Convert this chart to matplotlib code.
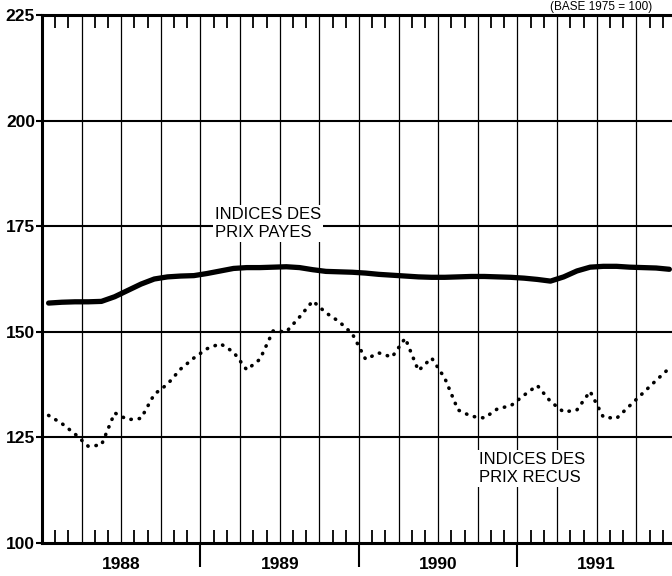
"""Indices des prix payes / recus, 1988-1991 (base 1975 = 100)."""

import numpy as np
import matplotlib
matplotlib.use("Agg")
import matplotlib.pyplot as plt

plt.rcParams["font.family"] = ["Liberation Sans", "DejaVu Sans"]

# mois 0 = janvier 1988, valeurs placees en milieu de mois
MONTHS = np.arange(48) + 0.5
YEARS = ["1988", "1989", "1990", "1991"]

PRIX_PAYES = [
    156.8, 157.0, 157.1, 157.1, 157.2, 158.3, 159.8, 161.3, 162.5, 163.0, 163.2, 163.3,
    163.8, 164.4, 165.0, 165.2, 165.2, 165.3, 165.4, 165.2, 164.7, 164.3, 164.2, 164.1,
    163.9, 163.6, 163.4, 163.2, 163.0, 162.9, 162.9, 163.0, 163.1, 163.1, 163.0, 162.9,
    162.7, 162.4, 162.0, 163.0, 164.4, 165.3, 165.5, 165.5, 165.3, 165.2, 165.1, 164.8,
]
PRIX_RECUS = [
    130.2, 128.3, 125.8, 122.9, 123.2, 130.8, 129.2, 129.5, 135.2, 137.6, 141.2, 143.8,
    146.0, 147.2, 145.2, 141.0, 143.5, 150.2, 150.0, 153.5, 157.3, 154.5, 152.4, 149.5,
    143.5, 145.0, 144.0, 148.5, 140.8, 143.8, 139.0, 131.5, 130.0, 129.6, 131.8, 132.5,
    135.0, 137.3, 133.5, 131.0, 131.5, 135.9, 129.8, 129.5, 132.5, 135.5, 138.5, 141.4,
]

fig = plt.figure(figsize=(6.72, 5.76), dpi=100)
ax = fig.add_axes([42 / 672, 33 / 576, 630 / 672, 528 / 576])

ax.set_xlim(0, 47.7)
ax.set_ylim(100, 225)

# grille : trimestres et lignes de 25 en 25
for q in range(3, 48, 3):
    ax.axvline(q, color="black", lw=0.9, zorder=1)
for v in (125, 150, 175, 200):
    ax.axhline(v, color="black", lw=1.5, zorder=1)

ax.plot(MONTHS, PRIX_PAYES, color="black", lw=3.8, solid_capstyle="round", zorder=3)
ax.plot(MONTHS, PRIX_RECUS, color="black", lw=2.6, ls=(0, (0.1, 2.2)),
        dash_capstyle="round", zorder=3)

box = dict(boxstyle="square,pad=0.12", fc="white", ec="none")
ax.text(13.1, 175.6, "INDICES DES\nPRIX PAYES", ha="left", va="center",
        fontsize=12, linespacing=1.3, bbox=box, zorder=4)
ax.text(33.1, 117.6, "INDICES DES\nPRIX RECUS", ha="left", va="center",
        fontsize=12, linespacing=1.3, bbox=box, zorder=4)

# axes
for side in ("left", "top", "bottom"):
    ax.spines[side].set_linewidth(2.2)
ax.spines["right"].set_visible(False)

ax.set_yticks([100, 125, 150, 175, 200, 225])
ax.tick_params(axis="y", direction="out", length=4, width=1.5, pad=1,
               labelsize=12.5)
for lab in ax.get_yticklabels():
    lab.set_fontweight("bold")

ax.set_xticks([6, 18, 30, 42])
ax.set_xticklabels(YEARS, fontsize=12.5, fontweight="bold")
ax.set_xticks([m for m in range(1, 48) if m % 3], minor=True)
ax.tick_params(axis="x", which="major", length=0, pad=10)
ax.tick_params(axis="x", which="minor", direction="in", length=9.5, width=1.3,
               top=True, bottom=True)

sep = ax.secondary_xaxis("bottom")
sep.set_xticks([12, 24, 36])
sep.set_xticklabels([])
sep.tick_params(direction="out", length=17, width=1.5)
sep.spines["bottom"].set_visible(False)

fig.text(0.97, 0.999, "(BASE 1975 = 100)", ha="right", va="top", fontsize=8.5)

fig.savefig("out.png", dpi=100)
